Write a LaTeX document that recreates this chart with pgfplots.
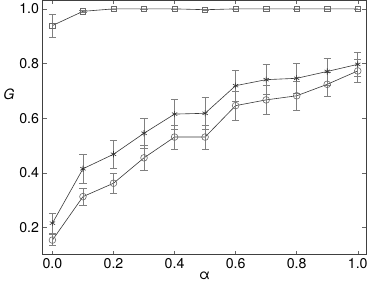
\documentclass[border=0pt]{standalone}
\usepackage{pgfplots}
\pgfplotsset{compat=1.18}
\usepackage{fontspec}
\setmainfont{TeX Gyre Heros}
\definecolor{ln}{HTML}{3A3A3A}
\definecolor{mk}{HTML}{6A6A6A}
\definecolor{eb}{HTML}{808080}
\begin{document}
\begin{tikzpicture}
\begin{axis}[
  scale only axis, width=318bp, height=250bp,
  xmin=-0.032, xmax=1.028, ymin=0.10, ymax=1.031,
  xtick={0,0.2,...,1.0}, ytick={0.2,0.4,...,1.0},
  xticklabel style={/pgf/number format/.cd,fixed,fixed zerofill,precision=1},
  yticklabel style={/pgf/number format/.cd,fixed,fixed zerofill,precision=1},
  /pgf/number format/assume math mode=true,
  tick align=inside, tick pos=both,
  major tick length=4bp,
  axis line style={draw=black!75, line width=0.8pt},
  tick style={black!60, line width=0.5pt},
  font=\fontsize{14}{16}\selectfont,
  xlabel={α}, ylabel={\textit{G}},
  xlabel style={yshift=4bp},
  ylabel style={rotate=-90, at={(ticklabel cs:0.63)}, anchor=east, xshift=2bp},
  every axis plot/.append style={line width=0.6pt},
]
% squares
\addplot[ln, mark=square, mark size=2.6bp, mark options={draw=mk, line width=0.6pt},
  error bars/.cd, y dir=both, y explicit, error bar style={eb, line width=0.6pt}, error mark options={rotate=90, mark size=3.5bp, eb}]
 coordinates {
 (0.0,0.939) +- (0,0.042)
 (0.1,0.991) +- (0,0.003)
 (0.2,1.0) +- (0,0.0)
 (0.3,1.0) +- (0,0.0)
 (0.4,1.0) +- (0,0.0)
 (0.5,0.997) +- (0,0.002)
 (0.6,1.0) +- (0,0.0)
 (0.7,1.0) +- (0,0.0)
 (0.8,1.0) +- (0,0.0)
 (0.9,1.0) +- (0,0.0)
 (1.0,1.0) +- (0,0.0)
 };
% stars
\addplot[ln, mark=asterisk, mark size=3bp, mark options={draw=black!80, line width=0.6pt},
  error bars/.cd, y dir=both, y explicit, error bar style={eb, line width=0.6pt}, error mark options={rotate=90, mark size=3.5bp, eb}]
 coordinates {
 (0.0,0.216) +- (0,0.035)
 (0.1,0.415) +- (0,0.052)
 (0.2,0.468) +- (0,0.052)
 (0.3,0.545) +- (0,0.055)
 (0.4,0.615) +- (0,0.055)
 (0.5,0.618) +- (0,0.057)
 (0.6,0.719) +- (0,0.055)
 (0.7,0.741) +- (0,0.055)
 (0.8,0.746) +- (0,0.055)
 (0.9,0.771) +- (0,0.05)
 (1.0,0.797) +- (0,0.043)
 };
% circles
\addplot[ln, mark=o, mark size=3.3bp, mark options={draw=mk, line width=0.6pt},
  error bars/.cd, y dir=both, y explicit, error bar style={eb, line width=0.6pt}, error mark options={rotate=90, mark size=3.5bp, eb}]
 coordinates {
 (0.0,0.154) +- (0,0.02)
 (0.1,0.313) +- (0,0.032)
 (0.2,0.362) +- (0,0.038)
 (0.3,0.455) +- (0,0.045)
 (0.4,0.531) +- (0,0.045)
 (0.5,0.531) +- (0,0.045)
 (0.6,0.646) +- (0,0.052)
 (0.7,0.667) +- (0,0.053)
 (0.8,0.682) +- (0,0.052)
 (0.9,0.724) +- (0,0.045)
 (1.0,0.773) +- (0,0.042)
 };
\end{axis}
\end{tikzpicture}
\end{document}
